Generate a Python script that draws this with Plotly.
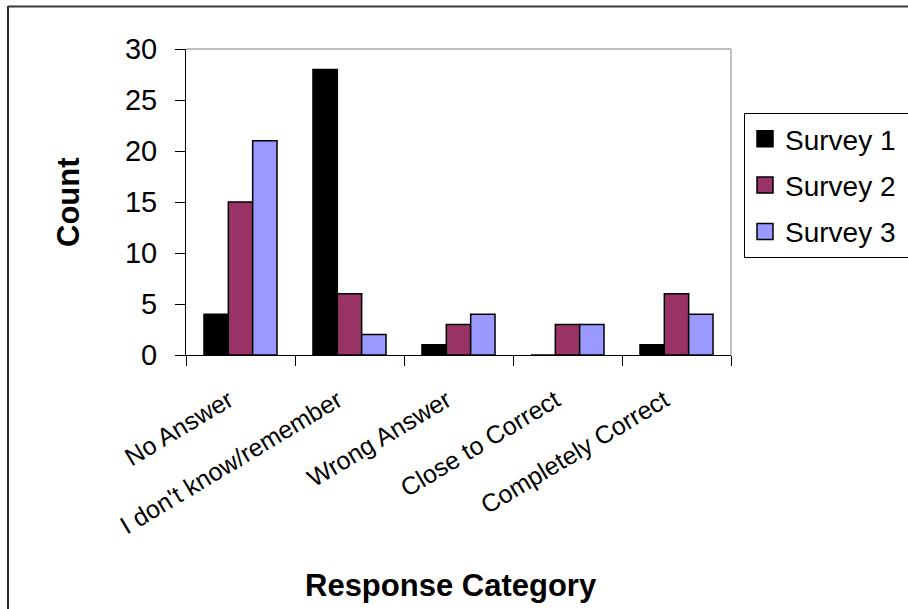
import plotly.graph_objects as go

# Response categories and counts per survey
categories = ["No Answer", "I don't know/remember", "Wrong Answer",
              "Close to Correct", "Completely Correct"]
survey1 = [4, 28, 1, 0, 1]
survey2 = [15, 6, 3, 3, 6]
survey3 = [21, 2, 4, 3, 4]
series_names = ["Survey 1", "Survey 2", "Survey 3"]
series_colors = ["#000000", "#993366", "#9999FF"]
y_ticks = [0, 5, 10, 15, 20, 25, 30]

FONT = "Liberation Sans, Arial, sans-serif"
W, H = 908, 609
# plot area in pixels
L, R, T, B = 186, 731, 49, 355


def px_x(x):
    return (x - L) / (R - L)


def px_y(y):
    return (B - y) / (B - T)


fig = go.Figure()
series = [survey1, survey2, survey3]
for i, (name, vals, col) in enumerate(zip(series_names, series, series_colors)):
    fig.add_trace(go.Bar(
        x=categories, y=vals, name=name, legendgroup=str(i),
        showlegend=False,
        marker=dict(color=col, line=dict(color="#000000", width=1.5)),
    ))
# legend entries with larger square keys
for i, (name, col) in enumerate(zip(series_names, series_colors)):
    fig.add_trace(go.Scatter(
        x=[None], y=[None], mode="markers", name=name + "\u00a0" * 6,
        legendgroup=str(i), hoverinfo="skip",
        marker=dict(symbol="square", size=16, color=col,
                    line=dict(color="#000000", width=1.5)),
    ))

fig.update_layout(
    width=W, height=H,
    margin=dict(l=L, r=W - R, t=T, b=H - B, autoexpand=False),
    paper_bgcolor="white", plot_bgcolor="white",
    barmode="group", bargap=0.33, bargroupgap=0,
    font=dict(family=FONT, color="#000000", size=24),
    showlegend=True,
    legend=dict(
        x=px_x(744), y=px_y(113), xanchor="left", yanchor="top",
        bgcolor="white", bordercolor="#000000", borderwidth=1,
        font=dict(family=FONT, size=28, color="#000000"),
        tracegroupgap=7, itemsizing="trace",
    ),
    xaxis=dict(
        type="category", showline=True, linecolor="#000000", linewidth=1,
        ticks="outside", tickson="boundaries", ticklen=10,
        tickcolor="#000000", tickangle=-31, showgrid=False,
        tickvals=categories,
        ticktext=[c + "\u00a0\u00a0" for c in categories],
        tickfont=dict(family=FONT, size=25), ticklabelstandoff=13,
    ),
    yaxis=dict(
        range=[0, 30], tickvals=y_ticks, showline=True,
        linecolor="#000000", linewidth=1, ticks="outside", ticklen=10,
        tickcolor="#000000", showgrid=False, zeroline=False,
        tickfont=dict(family=FONT, size=29), ticklabelstandoff=12,
    ),
    annotations=[
        dict(text="<b>Count</b>", xref="paper", yref="paper",
             x=px_x(68), y=px_y(202), textangle=-90, showarrow=False,
             xanchor="center", yanchor="middle",
             font=dict(family=FONT, size=31)),
        dict(text="<b>Response Category</b>", xref="paper", yref="paper",
             x=px_x(451), y=px_y(585), showarrow=False,
             xanchor="center", yanchor="middle",
             font=dict(family=FONT, size=31)),
    ],
    shapes=[
        # plot area frame (top and right)
        dict(type="line", xref="paper", yref="paper", x0=0, x1=1, y0=1, y1=1,
             line=dict(color="#808080", width=1)),
        dict(type="line", xref="paper", yref="paper", x0=1, x1=1, y0=0, y1=1,
             line=dict(color="#808080", width=1)),
        # chart frame
        dict(type="line", xref="paper", yref="paper",
             x0=px_x(8), x1=px_x(8), y0=px_y(6), y1=px_y(620),
             line=dict(color="#2a2a2a", width=2)),
        dict(type="line", xref="paper", yref="paper",
             x0=px_x(8), x1=px_x(920), y0=px_y(6.5), y1=px_y(6.5),
             line=dict(color="#3a3a3a", width=2)),
    ],
)

fig.write_html("out.html")
